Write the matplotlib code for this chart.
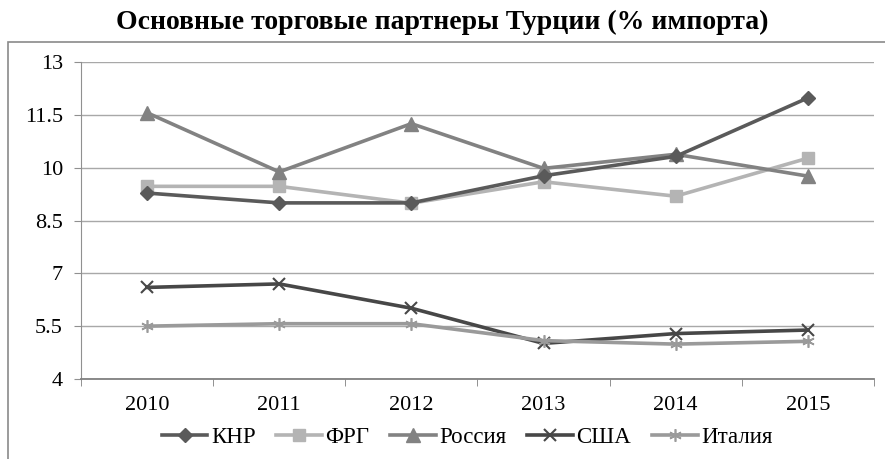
import matplotlib
matplotlib.use('Agg')
import matplotlib.pyplot as plt
from matplotlib.patches import Rectangle

years = ['2010', '2011', '2012', '2013', '2014', '2015']
knr = [9.28, 9.0, 9.0, 9.77, 10.32, 11.98]
frg = [9.47, 9.47, 8.99, 9.6, 9.19, 10.27]
russia = [11.56, 9.88, 11.25, 9.98, 10.38, 9.76]
usa = [6.6, 6.7, 6.01, 5.01, 5.29, 5.39]
italy = [5.5, 5.57, 5.57, 5.09, 4.99, 5.07]

labels = ['КНР', 'ФРГ', 'Россия', 'США', 'Италия']
yticks = [4, 5.5, 7, 8.5, 10, 11.5, 13]

plt.rcParams['font.family'] = ['Liberation Serif', 'DejaVu Serif']

fig = plt.figure(figsize=(8.85, 4.59), dpi=100)
ax = fig.add_axes([0.0915, 0.1743, 0.896, 0.6906])

x = list(range(len(years)))
ax.plot(x, knr, color='#5a5a5a', lw=2.6, marker='D', ms=7, label=labels[0], zorder=4)
ax.plot(x, frg, color='#b4b4b4', lw=2.6, marker='s', ms=9, label=labels[1], zorder=3)
ax.plot(x, russia, color='#828282', lw=2.6, marker='^', ms=10, label=labels[2], zorder=3)
ax.plot(x, usa, color='#474747', lw=2.6, marker='x', ms=9, mew=1.5, label=labels[3], zorder=3)
ax.plot(x, italy, color='#9a9a9a', lw=2.6, marker=(6, 2, 0), ms=9, mew=1.2, label=labels[4], zorder=3)

ax.set_xlim(-0.5, 5.5)
ax.set_ylim(4, 13)
ax.set_yticks(yticks)
ax.set_yticklabels([('%g' % v) for v in yticks], fontsize=16)
ax.set_xticks(x)
ax.set_xticklabels(years, fontsize=16)
ax.set_xticks([i - 0.5 for i in range(len(years) + 1)], minor=True)
ax.tick_params(axis='x', which='major', length=0, pad=12)
ax.tick_params(axis='x', which='minor', length=5, color='#808080')
ax.tick_params(axis='y', length=5, color='#909090', pad=8)

ax.grid(axis='y', color='#a8a8a8', lw=1)
ax.set_axisbelow(True)
for s in ['top', 'right']:
    ax.spines[s].set_visible(False)
ax.spines['left'].set_color('#909090')
ax.spines['bottom'].set_color('#808080')
ax.spines['bottom'].set_linewidth(1.3)

fig.text(0.5, 0.952, 'Основные торговые партнеры Турции (% импорта)',
         ha='center', va='center', fontsize=20, fontweight='bold')

fig.patches.append(Rectangle((8 / 885, -0.1), 1.2, (459 - 42) / 459 + 0.1,
                             transform=fig.transFigure, fill=False,
                             edgecolor='#8a8a8a', lw=1.2))

fig.legend(loc='center', bbox_to_anchor=(467 / 885, 1 - 437 / 459), ncol=5,
           frameon=False, fontsize=16.5, handlelength=2.0, handletextpad=0.15,
           columnspacing=0.9)

fig.savefig('out.png', dpi=100)
